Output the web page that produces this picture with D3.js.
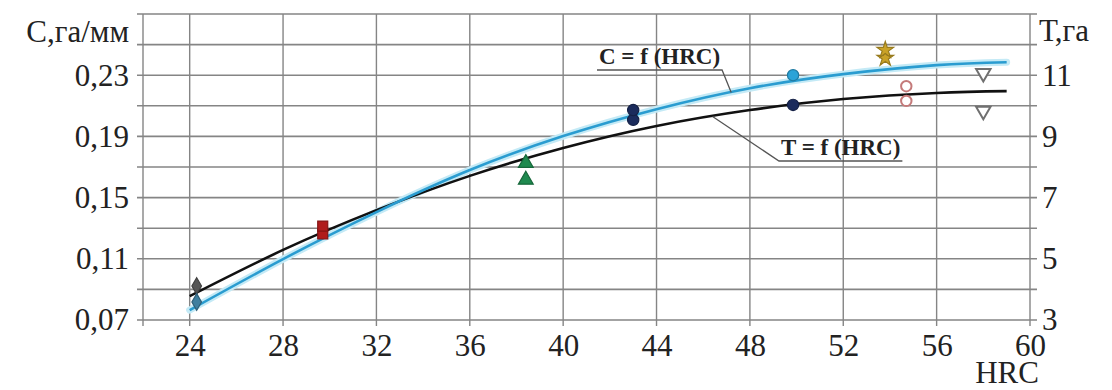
<!DOCTYPE html>
<html><head><meta charset="utf-8">
<script src="https://cdn.jsdelivr.net/npm/d3@7/dist/d3.min.js"></script>
<style>body{margin:0;background:#fff}svg{display:block}
text{font-family:"Liberation Serif","DejaVu Serif",serif}</style>
</head><body>
<svg id="chart" width="1112" height="390"></svg>
<script>
// ---- data ----
const curveHRC = [24, 28, 32, 36, 40, 44, 48, 52, 56, 59];
const curveC   = [0.0765, 0.1098, 0.1405, 0.1680, 0.1902, 0.2078, 0.2215, 0.2307, 0.2366, 0.2385]; // C = f(HRC), га/мм
const curveT   = [3.78, 5.29, 6.59, 7.71, 8.62, 9.34, 9.86, 10.22, 10.42, 10.48];                // T = f(HRC), га

const markHRC = [24.3, 29.7, 38.4, 43.0, 49.85, 53.8, 54.7, 58.0];
const markC   = [0.0818, 0.1314, 0.1725, 0.2072, 0.2300, 0.2464, 0.2228, 0.2313];
const markT   = [4.11, 5.81, 7.58, 9.54, 10.03, 11.56, 10.16, 9.83];
const markShape = ["diamond", "square", "triangle", "circle", "circle", "star", "ocircle", "otriangle"];
const markColC = ["#3f7f9f", "#b01c1c", "#1f8a4f", "#1b2b5c", "#2aa3d8", "#c9a227", "#c47a7a", "#707070"];
const markColT = ["#555555", "#b01c1c", "#1f8a4f", "#1b2b5c", "#1b2b5c", "#c9a227", "#c47a7a", "#707070"];

const xTicks  = [24, 28, 32, 36, 40, 44, 48, 52, 56, 60];
const yLTicks = [0.07, 0.11, 0.15, 0.19, 0.23];
const yLGrid  = [0.07, 0.09, 0.11, 0.13, 0.15, 0.17, 0.19, 0.21, 0.23, 0.25, 0.27];
const yRTicks = [3, 5, 7, 9, 11];

// ---- layout ----
const svg = d3.select("#chart");
const L = 143, R = 1030, T = 14, B = 320;
const x  = d3.scaleLinear([22, 60], [L, R]);
const yL = d3.scaleLinear([0.07, 0.27], [B, T]);
const yR = d3.scaleLinear([3, 13], [B, T]);
const font = '"Liberation Serif", "DejaVu Serif", serif';
const gridCol = "#858585";

// grid
const g = svg.append("g");
g.selectAll(".hg").data(yLGrid).join("line")
  .attr("x1", L - 6).attr("x2", R + 7)
  .attr("y1", d => yL(d)).attr("y2", d => yL(d))
  .attr("stroke", gridCol).attr("stroke-width", 1.6);
g.selectAll(".vg").data([22].concat(xTicks)).join("line")
  .attr("x1", d => x(d)).attr("x2", d => x(d))
  .attr("y1", T).attr("y2", B + 6)
  .attr("stroke", gridCol).attr("stroke-width", 1.4);

// axes (labels only)
const fmt = d3.format(".2f");
const axL = svg.append("g").attr("transform", `translate(${L - 8},0)`)
  .call(d3.axisLeft(yL).tickValues(yLTicks).tickSize(0).tickPadding(6).tickFormat(d => fmt(d).replace(".", ",")));
const axR = svg.append("g").attr("transform", `translate(${R + 8},0)`)
  .call(d3.axisRight(yR).tickValues(yRTicks).tickSize(0).tickPadding(4).tickFormat(d3.format("d")));
const axB = svg.append("g").attr("transform", `translate(0,${B + 6})`)
  .call(d3.axisBottom(x).tickValues(xTicks).tickSize(0).tickPadding(8).tickFormat(d3.format("d")));
[axL, axR, axB].forEach(a => {
  a.attr("font-family", null).attr("font-size", null);
  a.select(".domain").remove();
  a.selectAll("text").style("font-family", font).style("font-size", "31px").attr("fill", "#222");
});

// axis titles
function title(xp, yp, anchor, txt) {
  svg.append("text").attr("x", xp).attr("y", yp).attr("text-anchor", anchor)
    .style("font-family", font).style("font-size", "31px").attr("fill", "#222").text(txt);
}
title(129, 42, "end", "С,га/мм");
title(1039, 41, "start", "Т,га");
title(1007, 383, "middle", "HRC");

// curves
const lineC = d3.line().x((d, i) => x(curveHRC[i])).y(d => yL(d)).curve(d3.curveNatural);
const lineT = d3.line().x((d, i) => x(curveHRC[i])).y(d => yR(d)).curve(d3.curveNatural);
svg.append("path").attr("d", lineC(curveC)).attr("fill", "none")
  .attr("stroke", "#c4eaf6").attr("stroke-width", 7).attr("stroke-linecap", "round");
svg.append("path").attr("d", lineT(curveT)).attr("fill", "none")
  .attr("stroke", "#111").attr("stroke-width", 2.6);
svg.append("path").attr("d", lineC(curveC)).attr("fill", "none")
  .attr("stroke", "#2a9cd0").attr("stroke-width", 2.6);

// markers
function sym(shape) {
  const m = {diamond: [d3.symbolDiamond, 80], square: [d3.symbolSquare, 100], triangle: [d3.symbolTriangle, 95],
    circle: [d3.symbolCircle, 100], ocircle: [d3.symbolCircle, 85], star: [d3.symbolStar, 85], otriangle: [d3.symbolTriangle, 90]};
  return d3.symbol().type(m[shape][0]).size(m[shape][1])();
}
function drawMark(hx, py, shape, col) {
  const open = shape === "ocircle" || shape === "otriangle";
  const rot = shape === "otriangle" ? 180 : 0;
  svg.append("path").attr("d", sym(shape))
    .attr("transform", `translate(${x(hx)},${py}) rotate(${rot})`)
    .attr("fill", open ? "#fff" : col)
    .attr("stroke", open ? col : d3.color(col).darker(0.8))
    .attr("stroke-width", open ? 2 : 1.2);
}
markHRC.forEach((h, i) => {
  drawMark(h, yR(markT[i]), markShape[i], markColT[i]);
  drawMark(h, yL(markC[i]), markShape[i], markColC[i]);
});

// curve labels with leaders
function lab(xp, yp, txt) {
  return svg.append("text").attr("x", xp).attr("y", yp).text(txt)
    .style("font-family", font).style("font-size", "23px").style("font-weight", "bold").attr("fill", "#222");
}
const cLab = lab(599, 64, "C = f (HRC)");
const tLab = lab(781, 155, "T = f (HRC)");
const cW = cLab.node().getComputedTextLength();
const tW = tLab.node().getComputedTextLength();
const cLeadHRC = 47.2, tLeadHRC = 46.4;
const yAt = (arrX, arrY, h) => d3.scaleLinear(arrX, arrY)(h);
svg.append("path").attr("fill", "none").attr("stroke", "#555").attr("stroke-width", 1.3)
  .attr("d", `M597,70H${599 + cW + 2}L${x(cLeadHRC)},${yL(yAt(curveHRC, curveC, cLeadHRC))}`);
svg.append("path").attr("fill", "none").attr("stroke", "#555").attr("stroke-width", 1.3)
  .attr("d", `M${x(tLeadHRC)},${yR(yAt(curveHRC, curveT, tLeadHRC))}L779,161H${781 + tW + 2}`);
</script>
</body></html>
